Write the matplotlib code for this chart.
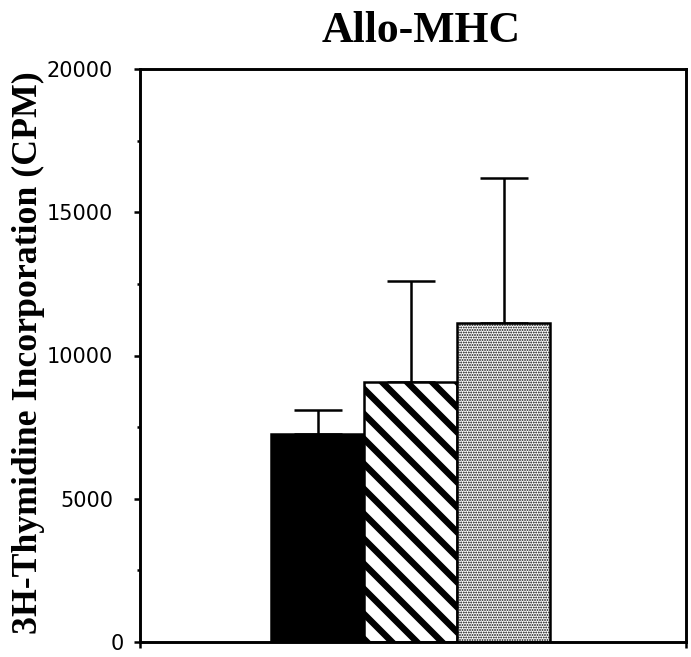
import numpy as np
import matplotlib
matplotlib.use("Agg")
import matplotlib.pyplot as plt
import matplotlib.transforms as mtransforms

# data
groups = ["A", "B", "C"]
means = [7270, 9060, 11150]
sem_up = [840, 3530, 5040]
fills = ["black", "white", "white"]
hatches = [None, "\\\\", ".........."]
hatch_lw = [1.0, 3.1, 0.6]
yticks = [0, 5000, 10000, 15000, 20000]

DPI = 150
fig = plt.figure(figsize=(691 / DPI, 657 / DPI), dpi=DPI)
ax = fig.add_axes([140 / 691, 1 - 642 / 657, 546 / 691, 573 / 657])

x = np.arange(len(groups))
for i in range(len(groups)):
    with plt.rc_context({"hatch.linewidth": hatch_lw[i]}):
        bars = ax.bar(x[i], means[i], width=1.0, color=fills[i],
                      edgecolor="black", linewidth=1.2, hatch=hatches[i],
                      zorder=2)
    for b in bars:
        if hasattr(b, "set_hatch_linewidth"):
            b.set_hatch_linewidth(hatch_lw[i])
    ax.errorbar(x[i], means[i], yerr=[[0], [sem_up[i]]], fmt="none",
                ecolor="black", elinewidth=1.2, capsize=11.5, capthick=1.2,
                zorder=1)

ax.set_xlim(-1.91, 3.96)
ax.set_ylim(0, 20000)
ax.set_yticks(yticks)
ax.set_yticklabels([str(v) for v in yticks])
ax.set_yticks(np.arange(2500, 20000, 5000), minor=True)
ax.set_xticks([-1.91, 3.96])
ax.set_xticklabels(["", ""])

for s in ax.spines.values():
    s.set_linewidth(1.4)
ax.tick_params(axis="y", which="major", direction="out", length=3, width=1.2,
               labelsize=10, pad=10)
ax.tick_params(axis="y", which="minor", direction="out", length=1.5, width=1.2)
ax.tick_params(axis="x", direction="out", length=3, width=1.2)

# the zero label sits closer to the axis in the original
for lab in ax.get_yticklabels():
    if lab.get_text() == "0":
        lab.set_transform(lab.get_transform() +
                          mtransforms.ScaledTranslation(11 / DPI, 0, fig.dpi_scale_trans))

fig.text(421 / 691, 1 - 42 / 657, "Allo-MHC", ha="center", va="baseline",
         family="Liberation Serif", weight="bold", fontsize=21)
fig.text(28 / 691, 1 - 353 / 657, "3H-Thymidine Incorporation (CPM)",
         rotation=90, ha="center", va="center",
         family="Liberation Serif", weight="bold", fontsize=17.2)

fig.savefig("out.png", dpi=DPI)
